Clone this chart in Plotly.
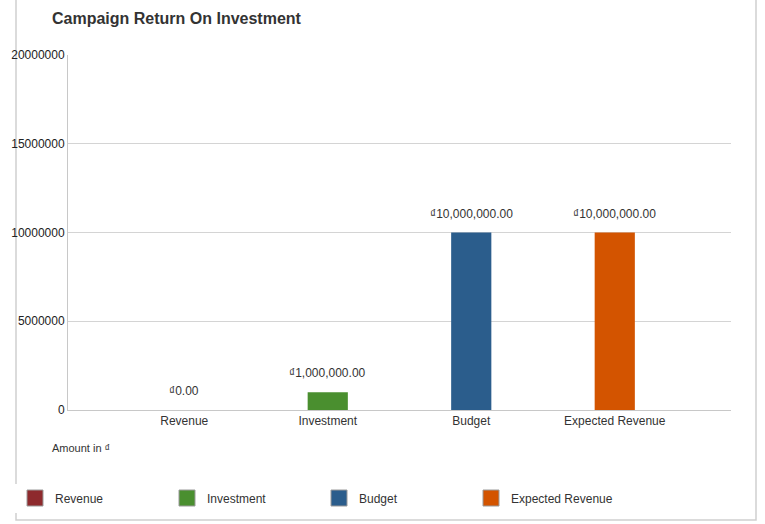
import plotly.graph_objects as go

categories = ["Revenue", "Investment", "Budget", "Expected Revenue"]
values = [0, 1000000, 10000000, 10000000]
colors = ["#8e2a2d", "#4a8f2f", "#2b5d8c", "#d35400"]
y_ticks = [0, 5000000, 10000000, 15000000, 20000000]
currency = "\u20ab"

FONT = "Liberation Sans, Arial, sans-serif"
W, H = 765, 524
L, R, T, B = 68, 34, 55, 114
pw, ph = W - L - R, H - T - B

fig = go.Figure()
for c, v, col in zip(categories, values, colors):
    fig.add_trace(go.Bar(x=[c], y=[v], name=c, marker=dict(color=col, line=dict(width=0)),
                         width=0.28, showlegend=False, hoverinfo="skip"))
    fig.add_trace(go.Scatter(x=[None], y=[None], mode="markers", name=c,
                             marker=dict(symbol="square", size=16, color=col,
                                         line=dict(color="#9a9a9a", width=1))))

for c, v in zip(categories, values):
    fig.add_annotation(x=c, y=v, yshift=19, text=f"{currency}{v:,.2f}", showarrow=False,
                       font=dict(family=FONT, size=12, color="#333333"))

fig.add_annotation(xref="paper", yref="paper", x=(50 - L) / pw, y=(T + ph - 448) / ph,
                   xanchor="left", yanchor="middle", text=f"Amount in {currency}", showarrow=False,
                   font=dict(family=FONT, size=11, color="#333333"))

# frame
fig.add_shape(type="rect", xref="paper", yref="paper",
              x0=(16 - L) / pw, x1=(756 - L) / pw, y0=(T + ph - 520) / ph, y1=(T + ph + 2) / ph,
              line=dict(color="#cfcfcf", width=1.5), fillcolor="rgba(0,0,0,0)", layer="below")

fig.update_layout(
    width=W, height=H,
    margin=dict(l=L, r=R, t=T, b=B, autoexpand=False),
    paper_bgcolor="white", plot_bgcolor="white",
    barmode="overlay",
    title=dict(text="<b>Campaign Return On Investment</b>", xref="container", yref="container",
               x=52 / W, y=1 - 18 / H, xanchor="left", yanchor="middle",
               font=dict(family=FONT, size=16, color="#333333")),
    font=dict(family=FONT, size=12, color="#333333"),
    xaxis=dict(range=[-0.81, 3.81], showgrid=False, showline=True, linecolor="#c8c8c8",
               ticks="", tickfont=dict(size=12, color="#333333"), fixedrange=True),
    yaxis=dict(range=[0, 20000000], tickvals=y_ticks, ticktext=[str(t) for t in y_ticks],
               showgrid=True, gridcolor="#d4d4d4", gridwidth=1, showline=True, linecolor="#c8c8c8",
               zeroline=False, ticks="", tickfont=dict(size=12, color="#222222"), fixedrange=True),
    legend=dict(orientation="h", x=(15 - L) / pw, y=(T + ph - 498) / ph, xanchor="left", yanchor="middle",
                entrywidth=107, entrywidthmode="pixels", font=dict(family=FONT, size=12, color="#333333"),
                itemclick=False, itemdoubleclick=False),
    showlegend=True,
)

fig.write_html("out.html")
